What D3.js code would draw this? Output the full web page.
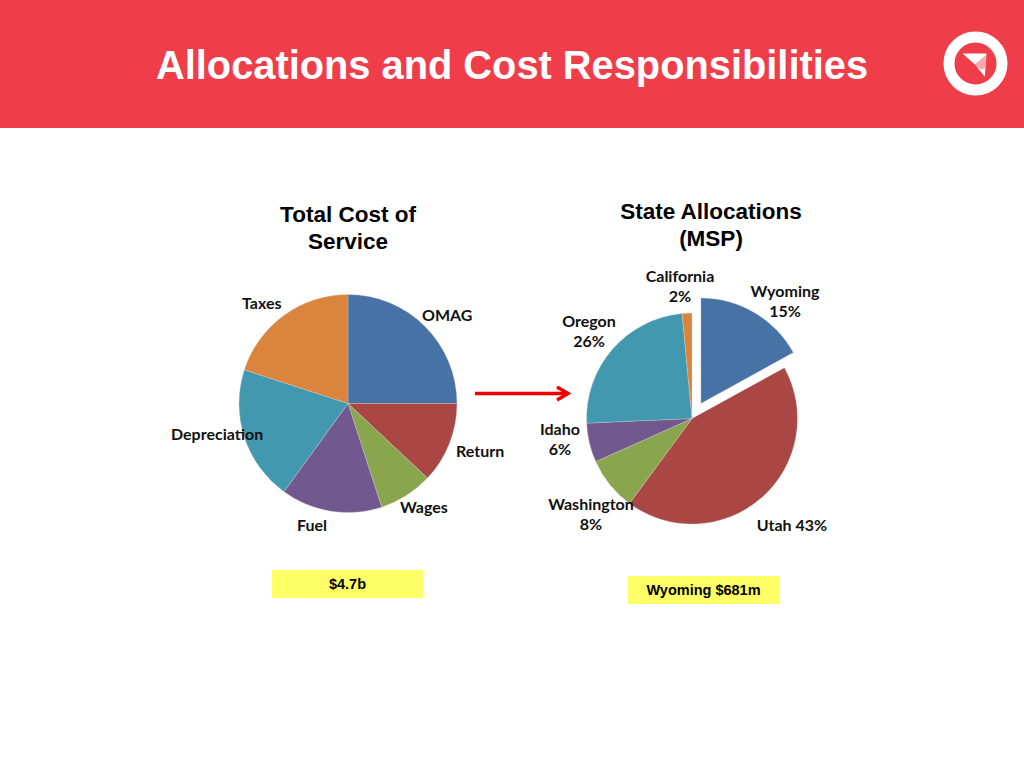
<!DOCTYPE html>
<html>
<head>
<meta charset="utf-8">
<script src="https://cdn.jsdelivr.net/npm/d3@7.9.0/dist/d3.min.js"></script>
<style>
  html, body { margin: 0; padding: 0; background: #fff; }
  svg { display: block; }
  .head { font-family: "Liberation Sans", Arial, sans-serif; font-weight: bold; }
  .lbl { font-family: Lato, "Open Sans", sans-serif; font-weight: 700; font-size: 16px; fill: #111; }
</style>
</head>
<body>
<svg width="1024" height="768"></svg>
<script>
const colors = ['#4672a5', '#aa4643', '#89a54e', '#71588f', '#4198af', '#db843d'];

// left pie
const costNames = ['OMAG', 'Return', 'Wages', 'Fuel', 'Depreciation', 'Taxes'];
const costValues = [25, 12, 8, 15, 20, 20];
const costLabels = [[422, 321], [456, 457], [400, 513], [297, 531], [171, 440], [242, 309]];

// right pie, slices as drawn (the printed percentages differ a little)
const stateNames = ['Wyoming', 'Utah', 'Washington', 'Idaho', 'Oregon', 'California'];
const stateValues = [17, 43.1, 8.2, 6, 24.2, 1.5];
const stateLabels = [['Wyoming', '15%'], ['Utah 43%'], ['Washington', '8%'], ['Idaho', '6%'], ['Oregon', '26%'], ['California', '2%']];
const stateLabelPos = [[785, 297], [792, 531], [591, 510], [560, 435], [589, 327], [680, 282]];

const svg = d3.select('svg');

svg.append('rect').attr('width', 1024).attr('height', 128).attr('fill', '#ef3d49');
svg.append('text').attr('class', 'head').attr('x', 512).attr('y', 79)
  .attr('text-anchor', 'middle').attr('font-size', 39.8).attr('fill', '#fff')
  .text('Allocations and Cost Responsibilities');

// logo
const logo = svg.append('g').attr('transform', 'translate(975.5,63.5)');
logo.append('circle').attr('r', 26.5).attr('fill', 'none').attr('stroke', '#fff').attr('stroke-width', 11);
logo.append('path').attr('d', 'M-13,-10 L11,-10 L9.3,13.3 L0,1.5 Z').attr('fill', '#fff');
logo.append('path').attr('d', 'M-1,1 L10.5,-8.5 L9.8,5 L6,6 Z').attr('fill', '#f7a9ae');

const pie = d3.pie().sort(null).value((d) => d);

function drawPie(values, cx, cy, radius, explode) {
  const arc = d3.arc().innerRadius(0).outerRadius(radius);
  const g = svg.append('g').attr('transform', `translate(${cx},${cy})`);
  pie(values).forEach((d, i) => {
    const mid = (d.startAngle + d.endAngle) / 2;
    const off = explode === i ? 17.5 : 0;
    g.append('path')
      .attr('d', arc(d))
      .attr('fill', colors[i])
      .attr('stroke', '#d9d9d9')
      .attr('stroke-opacity', 0.5)
      .attr('stroke-width', 0.6)
      .attr('transform', `translate(${Math.sin(mid) * off},${-Math.cos(mid) * off})`);
  });
}

drawPie(costValues, 348, 403.5, 109, -1);
drawPie(stateValues, 692, 418.5, 105.5, 0);

function centerText(lines, x, y, size, cls, lineH) {
  const t = svg.append('text').attr('class', cls).attr('text-anchor', 'middle').attr('font-size', size);
  lines.forEach((s, i) => {
    t.append('tspan').attr('x', x).attr('y', y + i * lineH).text(s);
  });
}

centerText(['Total Cost of', 'Service'], 348, 222, 22.5, 'head', 27);
centerText(['State Allocations', '(MSP)'], 711, 219, 22.5, 'head', 27);

// left labels are placed by their left edge
costNames.forEach((name, i) => {
  svg.append('text').attr('class', 'lbl').attr('x', costLabels[i][0]).attr('y', costLabels[i][1]).text(name);
});

stateNames.forEach((name, i) => {
  const t = svg.append('text').attr('class', 'lbl').attr('text-anchor', 'middle');
  stateLabels[i].forEach((s, j) => {
    t.append('tspan').attr('x', stateLabelPos[i][0]).attr('y', stateLabelPos[i][1] + j * 20).text(s);
  });
});

// arrow
svg.append('path').attr('d', 'M475,393.5 L567,393.5').attr('stroke', '#ee0000').attr('stroke-width', 3.5).attr('fill', 'none');
svg.append('path').attr('d', 'M557,387 L568,393.5 L557,400').attr('stroke', '#ee0000').attr('stroke-width', 3.5).attr('fill', 'none');

// yellow boxes
svg.append('rect').attr('x', 272).attr('y', 570).attr('width', 151).attr('height', 28).attr('fill', '#ffff66');
svg.append('rect').attr('x', 628).attr('y', 576).attr('width', 151).attr('height', 28).attr('fill', '#ffff66');
centerText(['$4.7b'], 347.5, 589, 14.5, 'head', 0);
centerText(['Wyoming $681m'], 703.5, 595, 14.5, 'head', 0);
</script>
</body>
</html>
